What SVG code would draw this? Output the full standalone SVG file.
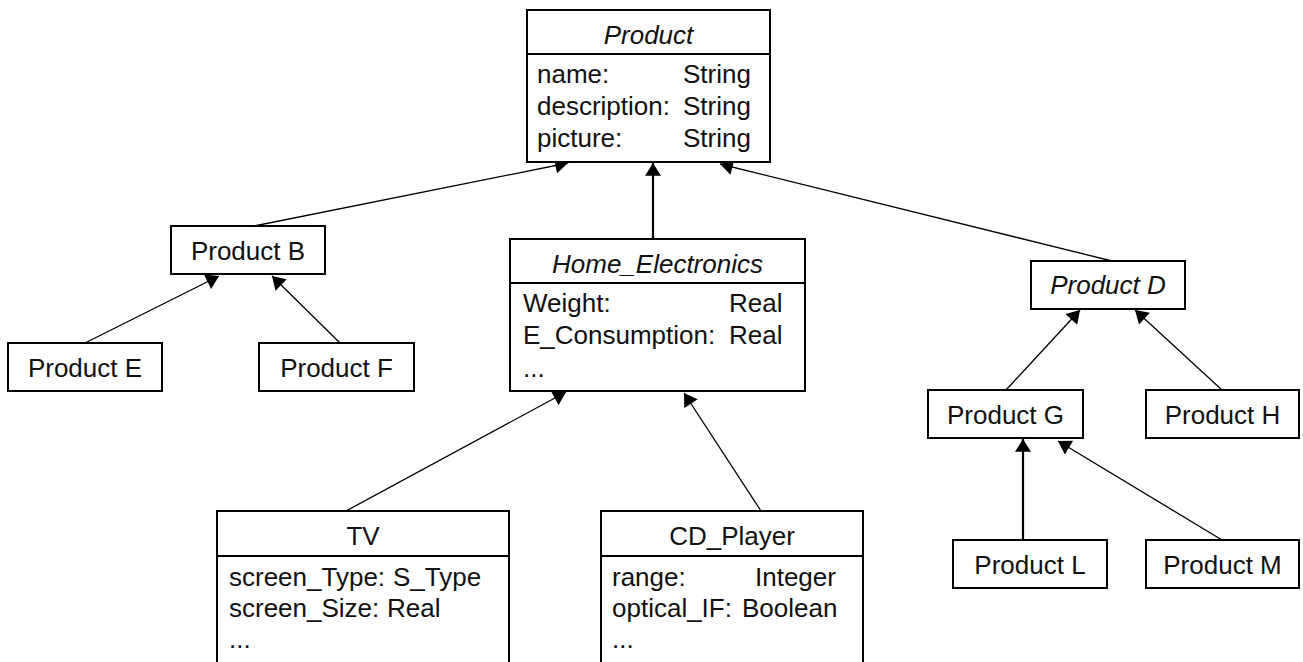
<svg xmlns="http://www.w3.org/2000/svg" width="1303" height="662" viewBox="0 0 1303 662">
  <style>
    .box { fill: #fff; stroke: #000; stroke-width: 2; }
    .sep { stroke: #000; stroke-width: 2; }
    .t { font-family: "Liberation Sans", Arial, Helvetica, sans-serif; font-size: 26px; fill: #111; }
    .c { text-anchor: middle; }
    .i { font-style: italic; }
    .edge { stroke: #000; stroke-width: 1.3; fill: none; marker-end: url(#tri); }
    .edge.bold { stroke-width: 2.2; }
  </style>
  <defs>
    <marker id="tri" markerUnits="userSpaceOnUse" markerWidth="14" markerHeight="16" refX="12" refY="7.5" orient="auto" viewBox="0 0 12 15">
      <path d="M0,0 L12,7.5 L0,15 z" fill="#000"/>
    </marker>
  </defs>
  <rect width="1303" height="662" fill="#fff"/>

  <!-- generalisation links, child to parent -->
  <g id="connectors">
    <line class="edge" x1="254" y1="226" x2="568" y2="163"/>
    <line class="edge bold" x1="653" y1="239" x2="653" y2="163"/>
    <line class="edge" x1="1112" y1="261" x2="720" y2="164"/>
    <line class="edge" x1="85" y1="343" x2="219" y2="276"/>
    <line class="edge" x1="340" y1="343" x2="272" y2="276"/>
    <line class="edge" x1="346" y1="511" x2="566" y2="392"/>
    <line class="edge" x1="761" y1="511" x2="684" y2="393"/>
    <line class="edge" x1="1006" y1="390" x2="1080" y2="310"/>
    <line class="edge" x1="1222" y1="390" x2="1135" y2="310"/>
    <line class="edge bold" x1="1023" y1="540" x2="1023" y2="439"/>
    <line class="edge" x1="1222" y1="540" x2="1058" y2="441"/>
  </g>

  <g id="product">
    <rect class="box" x="527" y="10" width="243" height="152"/>
    <line class="sep" x1="527" y1="54" x2="770" y2="54"/>
    <text class="t c i" x="648.5" y="44">Product</text>
    <text class="t" x="537" y="83">name:</text>
    <text class="t" x="683" y="83">String</text>
    <text class="t" x="537" y="115">description:</text>
    <text class="t" x="683" y="115">String</text>
    <text class="t" x="537" y="147">picture:</text>
    <text class="t" x="683" y="147">String</text>
  </g>

  <g id="product-b">
    <rect class="box" x="171" y="226" width="154" height="48"/>
    <text class="t c" x="248" y="260">Product B</text>
  </g>

  <g id="product-e">
    <rect class="box" x="8" y="343" width="154" height="48"/>
    <text class="t c" x="85" y="377">Product E</text>
  </g>

  <g id="product-f">
    <rect class="box" x="259" y="343" width="155" height="48"/>
    <text class="t c" x="336.5" y="377">Product F</text>
  </g>

  <g id="home-electronics">
    <rect class="box" x="510" y="239" width="295" height="152"/>
    <line class="sep" x1="510" y1="283" x2="805" y2="283"/>
    <text class="t c i" x="657.5" y="273">Home_Electronics</text>
    <text class="t" x="523" y="312">Weight:</text>
    <text class="t" x="729" y="312">Real</text>
    <text class="t" x="523" y="344">E_Consumption:</text>
    <text class="t" x="729" y="344">Real</text>
    <text class="t" x="523" y="377">...</text>
  </g>

  <g id="product-d">
    <rect class="box" x="1031" y="261" width="154" height="48"/>
    <text class="t c i" x="1108" y="294">Product D</text>
  </g>

  <g id="product-g">
    <rect class="box" x="928" y="390" width="155" height="48"/>
    <text class="t c" x="1005.5" y="424">Product G</text>
  </g>

  <g id="product-h">
    <rect class="box" x="1146" y="390" width="153" height="48"/>
    <text class="t c" x="1222.5" y="424">Product H</text>
  </g>

  <g id="product-l">
    <rect class="box" x="953" y="540" width="154" height="48"/>
    <text class="t c" x="1030" y="574">Product L</text>
  </g>

  <g id="product-m">
    <rect class="box" x="1146" y="540" width="153" height="48"/>
    <text class="t c" x="1222.5" y="574">Product M</text>
  </g>

  <g id="tv">
    <rect class="box" x="217" y="511" width="292" height="170"/>
    <line class="sep" x1="217" y1="556" x2="509" y2="556"/>
    <text class="t c" x="363" y="545">TV</text>
    <text class="t" x="229" y="586">screen_Type:</text>
    <text class="t" x="393" y="586">S_Type</text>
    <text class="t" x="229" y="617">screen_Size:</text>
    <text class="t" x="387" y="617">Real</text>
    <text class="t" x="229" y="648">...</text>
  </g>

  <g id="cd-player">
    <rect class="box" x="601" y="511" width="262" height="170"/>
    <line class="sep" x1="601" y1="556" x2="863" y2="556"/>
    <text class="t c" x="732" y="545">CD_Player</text>
    <text class="t" x="612" y="586">range:</text>
    <text class="t" x="755" y="586">Integer</text>
    <text class="t" x="612" y="617">optical_IF:</text>
    <text class="t" x="742" y="617">Boolean</text>
    <text class="t" x="612" y="648">...</text>
  </g>
</svg>
